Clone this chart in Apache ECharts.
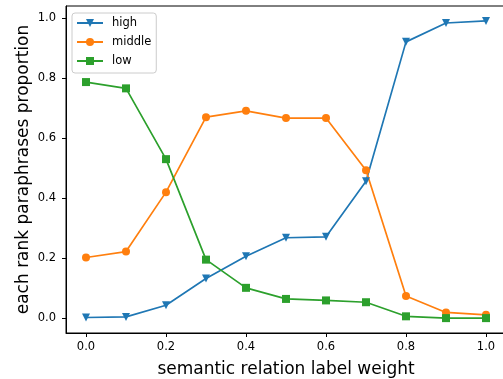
<!DOCTYPE html>
<html>
<head>
<meta charset="utf-8">
<script src="https://cdn.jsdelivr.net/npm/echarts@6/dist/echarts.min.js"></script>
<style>
  html, body { margin: 0; padding: 0; background: #fff; }
  #chart { width: 503px; height: 379px; }
</style>
</head>
<body>
<div id="chart"></div>
<script>
const weights = [0.0, 0.1, 0.2, 0.3, 0.4, 0.5, 0.6, 0.7, 0.8, 0.9, 1.0]
const high = [0.002, 0.004, 0.043, 0.132, 0.206, 0.268, 0.271, 0.456, 0.921, 0.984, 0.991]
const middle = [0.202, 0.222, 0.420, 0.670, 0.691, 0.667, 0.667, 0.493, 0.074, 0.019, 0.011]
const low = [0.787, 0.766, 0.530, 0.195, 0.101, 0.064, 0.059, 0.053, 0.006, 0.0, 0.0]
const xTicks = [0.0, 0.2, 0.4, 0.6, 0.8, 1.0]
const yTicks = [0.0, 0.2, 0.4, 0.6, 0.8, 1.0]

const font = 'DejaVu Sans'
const pairs = (ys) => weights.map((x, i) => [x, ys[i]])

const chart = echarts.init(document.getElementById('chart'))

const makeSeries = (name, ys, color, symbol, extra) => ({
  name,
  type: 'line',
  data: pairs(ys),
  symbol,
  symbolSize: 8,
  showSymbol: true,
  lineStyle: { color, width: 1.7 },
  itemStyle: { color },
  emphasis: { disabled: true },
  animation: false,
  ...extra
})

const axisCommon = {
  type: 'value',
  axisLine: { show: true, onZero: false, lineStyle: { color: '#000', width: 1 } },
  axisTick: { show: true, inside: false, length: 4, lineStyle: { color: '#000' } },
  splitLine: { show: false },
  axisLabel: {
    color: '#000',
    fontFamily: font,
    fontSize: 11.5,
    formatter: (v) => v.toFixed(1)
  },
  nameMoveOverlap: false,
  nameTextStyle: { color: '#000', fontFamily: font, fontSize: 17 }
}

chart.setOption({
  backgroundColor: '#fff',
  animation: false,
  grid: {
    left: 66,
    right: -3,
    top: 6,
    bottom: 46,
    show: true,
    borderColor: '#000',
    borderWidth: 1,
    outerBoundsMode: 'none'
  },
  legend: {
    orient: 'vertical',
    left: 72,
    top: 13,
    itemWidth: 26,
    itemHeight: 10,
    itemGap: 5,
    padding: [3, 5, 5, 4],
    borderColor: '#cccccc',
    borderWidth: 1,
    borderRadius: 3,
    backgroundColor: 'rgba(255,255,255,0.8)',
    textStyle: { color: '#000', fontFamily: font, fontSize: 11.5, lineHeight: 14, padding: [0, 0, 0, 4] },
    data: ['high', 'middle', 'low']
  },
  xAxis: {
    ...axisCommon,
    min: -0.05,
    max: 1.05,
    name: 'semantic relation label weight',
    nameLocation: 'middle',
    nameGap: 28,
    axisTick: { ...axisCommon.axisTick, customValues: xTicks },
    axisLabel: { ...axisCommon.axisLabel, margin: 8, customValues: xTicks }
  },
  yAxis: {
    ...axisCommon,
    min: -0.0496,
    max: 1.0406,
    name: 'each rank paraphrases proportion',
    nameLocation: 'middle',
    nameGap: 34,
    axisTick: { ...axisCommon.axisTick, customValues: yTicks },
    axisLabel: { ...axisCommon.axisLabel, margin: 10, customValues: yTicks }
  },
  series: [
    makeSeries('high', high, '#1f77b4', 'triangle', { symbolRotate: 180 }),
    makeSeries('middle', middle, '#ff7f0e', 'circle'),
    makeSeries('low', low, '#2ca02c', 'rect')
  ]
})
</script>
</body>
</html>
